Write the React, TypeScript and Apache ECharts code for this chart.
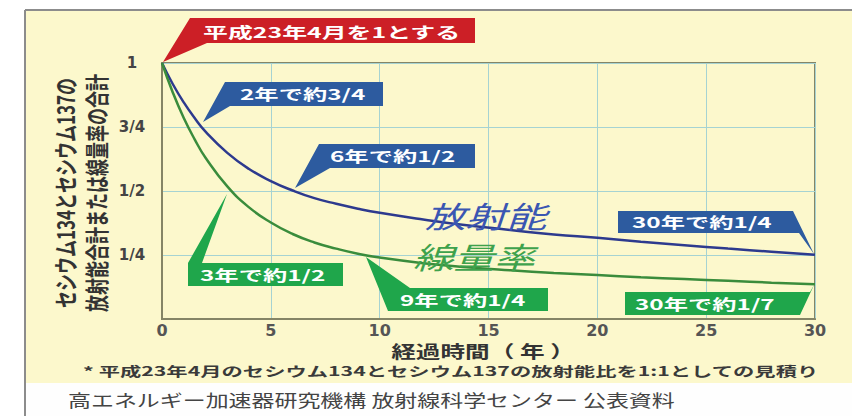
import React, { useEffect, useRef } from "react";
import * as echarts from "echarts";

// Elapsed time (years) and relative values
const years = [0, 0.5, 1, 1.5, 2, 3, 4, 5, 6, 7, 8, 9, 10, 12, 14, 16, 18, 20, 22, 24, 26, 28, 30];
const activity = [1, 0.917, 0.846, 0.785, 0.732, 0.649, 0.586, 0.539, 0.502, 0.472, 0.45, 0.431, 0.415, 0.389, 0.366, 0.348, 0.33, 0.317, 0.302, 0.288, 0.275, 0.263, 0.251];
const doseRate = [1, 0.884, 0.785, 0.702, 0.63, 0.518, 0.436, 0.377, 0.332, 0.299, 0.275, 0.255, 0.24, 0.218, 0.202, 0.19, 0.18, 0.172, 0.163, 0.156, 0.149, 0.142, 0.136];
const yTickValues = [0.25, 0.5, 0.75, 1];
const yTickLabels = ["1/4", "1/2", "3/4", "1"];

const seriesNames = ["放射能", "線量率"];
const callouts = [
  "平成23年4月を1とする",
  "2年で約3/4",
  "6年で約1/2",
  "30年で約1/4",
  "3年で約1/2",
  "9年で約1/4",
  "30年で約1/7",
];
const xAxisTitle = "経過時間（ 年 ）";
const yTitleLine1 = "セシウム134とセシウム137の";
const yTitleLine2 = "放射能合計または線量率の合計";
const note = "* 平成23年4月のセシウム134とセシウム137の放射能比を1:1としての見積り";
const source = "高エネルギー加速器研究機構 放射線科学センター 公表資料";

const FONT = '"Noto Sans CJK JP", "Noto Sans", sans-serif';
const RED = "#cc1f26";
const BLUE_BOX = "#2d5b9f";
const GREEN_BOX = "#1fa64b";

function poly(points: number[][], fill: string) {
  return { type: "polygon", z: 20, silent: true, shape: { points }, style: { fill } };
}
function label(text: string, x: number, y: number, opts: any = {}) {
  return {
    type: "text",
    z: 21,
    silent: true,
    x,
    y,
    scaleX: opts.scaleX ?? 1.62,
    scaleY: opts.scaleY ?? 1,
    rotation: opts.rotation ?? 0,
    style: {
      text,
      fill: opts.fill ?? "#ffffff",
      fontSize: opts.fontSize ?? 15,
      fontWeight: opts.fontWeight ?? "bold",
      fontStyle: opts.fontStyle ?? "normal",
      fontFamily: FONT,
      align: opts.align ?? "left",
      verticalAlign: "middle",
    },
  };
}

export default function App() {
  const ref = useRef<HTMLDivElement>(null);
  useEffect(() => {
    if (!ref.current) return;
    const chart = echarts.init(ref.current, null, { renderer: "svg" });
    const option: any = {
      animation: false,
      backgroundColor: "#ffffff",
      grid: {
        left: 162,
        top: 63,
        width: 653,
        height: 256,
        show: true,
        borderColor: "#858566",
        borderWidth: 2,
        backgroundColor: "transparent",
      },
      xAxis: {
        type: "value",
        min: 0,
        max: 30,
        interval: 5,
        axisLine: { show: true, lineStyle: { color: "#858566", width: 2 } },
        axisTick: { show: false },
        splitLine: { show: true, lineStyle: { color: "#a6d3d2", width: 1 } },
        axisLabel: {
          margin: 3,
          fontSize: 16,
          fontWeight: "bold",
          color: "#555555",
          fontFamily: '"DejaVu Sans", sans-serif',
        },
      },
      yAxis: {
        type: "value",
        min: 0,
        max: 1,
        interval: 0.25,
        axisLine: { show: true, lineStyle: { color: "#858566", width: 2 } },
        axisTick: { show: false },
        splitLine: { show: true, lineStyle: { color: "#a6d3d2", width: 1 } },
        axisLabel: {
          margin: 30,
          align: "center",
          fontSize: 15,
          fontWeight: "bold",
          color: "#444444",
          fontFamily: '"DejaVu Sans", sans-serif',
          formatter: (v: number) => {
            const i = yTickValues.findIndex((t) => Math.abs(t - v) < 1e-6);
            return i >= 0 ? yTickLabels[i] : "";
          },
        },
      },
      series: [
        {
          name: seriesNames[0],
          type: "line",
          data: years.map((t, i) => [t, activity[i]]),
          smooth: 0.5,
          showSymbol: false,
          lineStyle: { color: "#2d3a8e", width: 2.5 },
          z: 5,
        },
        {
          name: seriesNames[1],
          type: "line",
          data: years.map((t, i) => [t, doseRate[i]]),
          smooth: 0.5,
          showSymbol: false,
          lineStyle: { color: "#3a8c3c", width: 2.5 },
          z: 5,
        },
      ],
      graphic: [
        // backgrounds
        { type: "rect", z: -10, silent: true, shape: { x: 26, y: 11, width: 830, height: 372 }, style: { fill: "#fcf8cc" } },
        { type: "rect", z: -9, silent: true, shape: { x: 26, y: 383, width: 830, height: 40 }, style: { fill: "#fefefe" } },
        { type: "line", z: -8, silent: true, shape: { x1: 25, y1: 10, x2: 852, y2: 10 }, style: { stroke: "#8c8c8c", lineWidth: 2 } },
        { type: "line", z: -8, silent: true, shape: { x1: 25, y1: 10, x2: 25, y2: 416 }, style: { stroke: "#8c8c8c", lineWidth: 2 } },
        // red callout
        poly([[190, 18], [475, 18], [475, 43], [207, 43], [163, 62]], RED),
        label(callouts[0], 203, 31, { scaleX: 1.66, fontWeight: 600 }),
        // blue callouts
        poly([[225, 82], [383, 82], [383, 106], [230, 106], [203, 122]], BLUE_BOX),
        label(callouts[1], 240, 94, { fontWeight: 600 }),
        poly([[319, 144], [475, 144], [475, 168], [330, 168], [295, 188]], BLUE_BOX),
        label(callouts[2], 330, 156, { fontWeight: 600 }),
        poly([[618, 211], [793, 211], [814, 254], [799, 233], [618, 233]], BLUE_BOX),
        label(callouts[3], 632, 222, { fontWeight: 600 }),
        // green callouts
        poly([[188, 286], [188, 263], [227, 194], [202, 263], [343, 263], [343, 286]], GREEN_BOX),
        label(callouts[4], 200, 275, { fontWeight: 600 }),
        poly([[366, 257], [410, 288], [548, 288], [548, 311], [388, 311]], GREEN_BOX),
        label(callouts[5], 400, 300, { fontWeight: 600 }),
        poly([[625, 292], [810, 292], [814, 285], [800, 315], [625, 315]], GREEN_BOX),
        label(callouts[6], 635, 304, { fontWeight: 600 }),
        // curve names
        label(seriesNames[0], 425, 215, { fill: "#3a56b2", fontSize: 30, fontWeight: "normal", fontStyle: "italic", scaleX: 1.35 }),
        label(seriesNames[1], 413, 256, { fill: "#3ea24c", fontSize: 30, fontWeight: "normal", fontStyle: "italic", scaleX: 1.35 }),
        // axis titles
        label(xAxisTitle, 483, 350, { fill: "#333333", fontSize: 17, align: "center", scaleX: 1.45 }),
        label(yTitleLine1, 65, 193, { fill: "#333333", fontSize: 17, fontWeight: 600, align: "center", rotation: Math.PI / 2, scaleX: 1, scaleY: 1.42 }),
        label(yTitleLine2, 96, 193, { fill: "#333333", fontSize: 17, fontWeight: 600, align: "center", rotation: Math.PI / 2, scaleX: 1, scaleY: 1.42 }),
        // footnotes
        label(note, 83, 370, { fill: "#3a3a3a", fontSize: 13, fontWeight: 600, scaleX: 1.64 }),
        label(source, 68, 400, { fill: "#444444", fontSize: 17, fontWeight: "normal", scaleX: 1.35 }),
      ],
    };
    chart.setOption(option);
    return () => chart.dispose();
  }, []);
  return (
    <div
      ref={ref}
      style={{ position: "absolute", left: 0, top: 0, width: 852, height: 416 }}
    />
  );
}
